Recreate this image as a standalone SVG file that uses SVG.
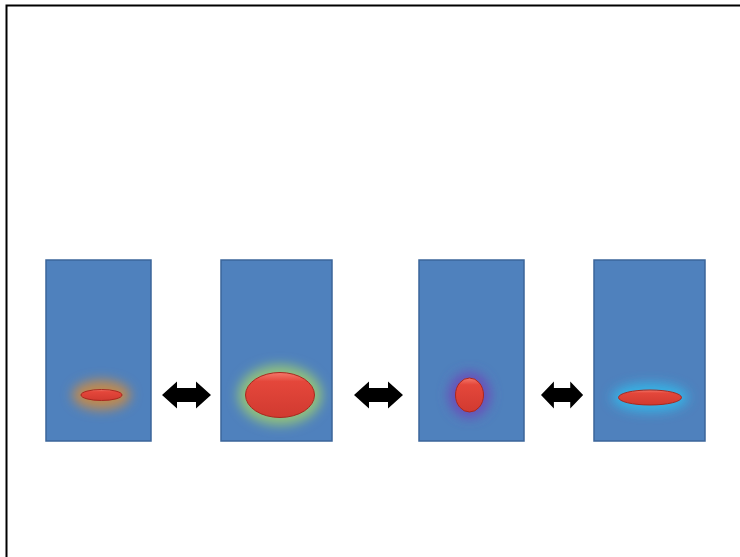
<svg xmlns="http://www.w3.org/2000/svg" width="740" height="557" viewBox="0 0 740 557">
<style>
.panel{fill:#4f81bd;stroke:#3b659a;stroke-width:1.5}
.blob{stroke:#a8281f;stroke-width:1;fill:url(#red)}
.arrow{fill:#000}
</style>
<defs>
<linearGradient id="red" x1="0" y1="0" x2="0" y2="1">
<stop offset="0" stop-color="#f4786a"/>
<stop offset="0.2" stop-color="#e4473b"/>
<stop offset="1" stop-color="#d13a30"/>
</linearGradient>
<filter id="glow" x="-80%" y="-150%" width="260%" height="400%"><feGaussianBlur stdDeviation="6"/></filter>
<path id="dbl" d="M0,0 L15,-13.5 L15,-7 L34,-7 L34,-13.5 L49,0 L34,13.5 L34,7 L15,7 L15,13.5 Z"/>
</defs>
<rect x="0" y="0" width="740" height="557" fill="#fff"/>
<path d="M6.5,557 L6.5,5.5 L740,5.5" fill="none" stroke="#000" stroke-width="2"/>
<g id="panel1">
<rect class="panel" x="46" y="260" width="105" height="181"/>
<ellipse cx="101.5" cy="395" rx="29" ry="15" fill="#c08a50" filter="url(#glow)"/>
<ellipse class="blob" cx="101.5" cy="395" rx="20.5" ry="5.5"/>
</g>
<g id="panel2">
<rect class="panel" x="221" y="260" width="111" height="181"/>
<ellipse cx="280" cy="395" rx="42" ry="30" fill="#92c27c" filter="url(#glow)"/>
<ellipse class="blob" cx="280" cy="395" rx="34.5" ry="22.5"/>
</g>
<g id="panel3">
<rect class="panel" x="419" y="260" width="105" height="181"/>
<ellipse cx="469.5" cy="395" rx="21" ry="23" fill="#6a4fb8" filter="url(#glow)"/>
<ellipse class="blob" cx="469.5" cy="395" rx="14" ry="17"/>
</g>
<g id="panel4">
<rect class="panel" x="594" y="260" width="111" height="181"/>
<ellipse cx="650" cy="397.5" rx="38" ry="14" fill="#36b4e6" filter="url(#glow)"/>
<ellipse class="blob" cx="650" cy="397.5" rx="31.5" ry="7.5"/>
</g>
<g id="connectors">
<use href="#dbl" class="arrow" x="162" y="395"/>
<use href="#dbl" class="arrow" x="354" y="395"/>
<use href="#dbl" class="arrow" transform="translate(541,395) scale(0.86,1)"/>
</g>
</svg>
